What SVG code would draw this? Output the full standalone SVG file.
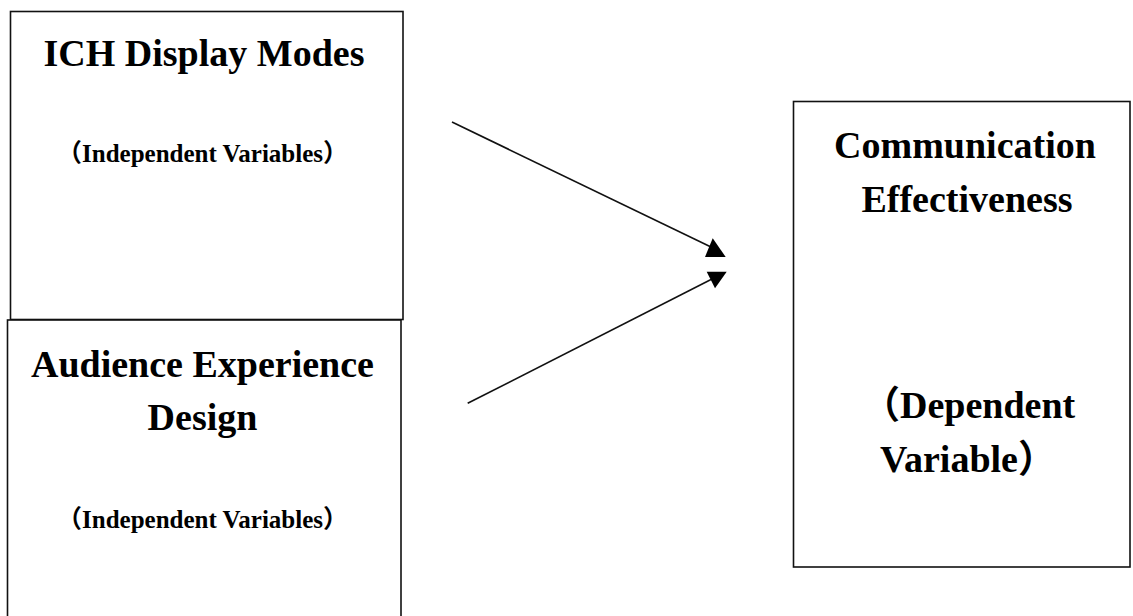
<svg xmlns="http://www.w3.org/2000/svg" width="1133" height="616" viewBox="0 0 1133 616">
  <style>
    .box { fill: #ffffff; stroke: #111111; stroke-width: 1.6; }
    .title { font-family: "Liberation Serif", "Noto Sans CJK SC", serif; font-weight: bold; font-size: 38px; fill: #000000; }
    .sub { font-family: "Liberation Serif", "Noto Sans CJK SC", serif; font-weight: bold; font-size: 25px; fill: #000000; }
    .conn { stroke: #111111; stroke-width: 1.6; fill: none; }
    .head { fill: #000000; stroke: none; }
  </style>
  <rect x="0" y="0" width="1133" height="616" fill="#ffffff"/>
  <g id="node-ich">
    <rect class="box" x="10.5" y="11.5" width="392.5" height="308"/>
    <text class="title" x="204" y="66" text-anchor="middle">ICH Display Modes</text>
    <text class="sub" x="57" y="162">（Independent Variables）</text>
  </g>
  <g id="node-audience">
    <rect class="box" x="7.5" y="320" width="393.5" height="310"/>
    <text class="title" x="202.5" y="377" text-anchor="middle">Audience Experience</text>
    <text class="title" x="202.5" y="430" text-anchor="middle">Design</text>
    <text class="sub" x="57" y="528">（Independent Variables）</text>
  </g>
  <g id="node-effectiveness">
    <rect class="box" x="793.5" y="101.5" width="336.5" height="465.5"/>
    <text class="title" x="965" y="158" text-anchor="middle">Communication</text>
    <text class="title" x="967" y="212" text-anchor="middle">Effectiveness</text>
    <text class="title" x="862" y="418">（Dependent</text>
    <text class="title" x="880" y="472">Variable）</text>
  </g>
  <g id="connectors">
    <line class="conn" x1="452" y1="122" x2="711" y2="247"/>
    <polygon class="head" points="712.7,238.3 705,257 725.7,257"/>
    <line class="conn" x1="467.7" y1="403.3" x2="712" y2="279"/>
    <polygon class="head" points="706.7,271.7 726.7,271.7 715,288.3"/>
  </g>
</svg>
